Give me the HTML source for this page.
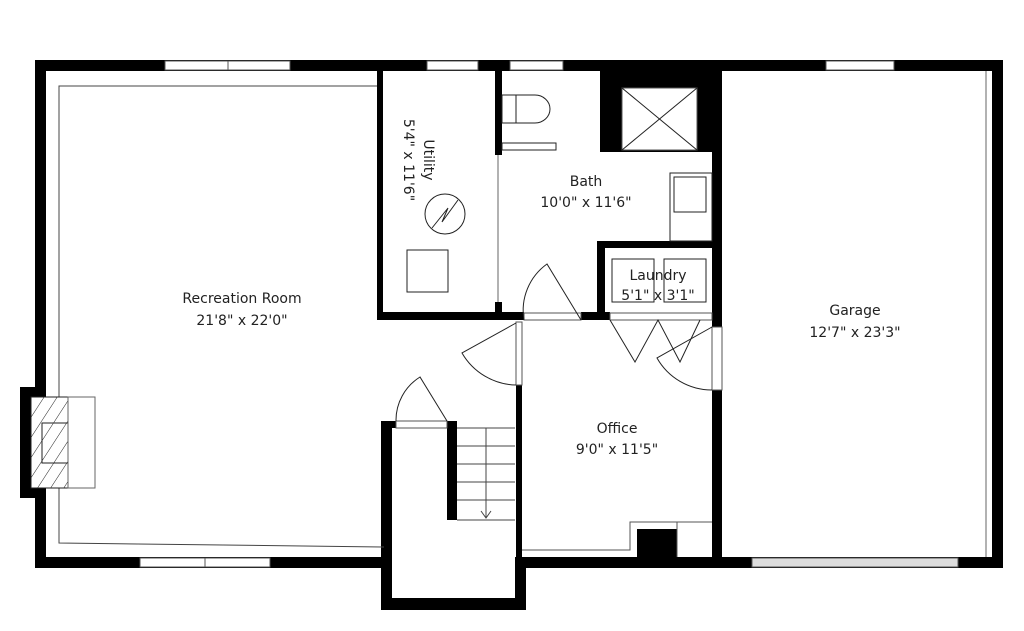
<!DOCTYPE html>
<html><head><style>body{margin:0;background:#fff}svg{display:block}text{font-family:"DejaVu Sans","Liberation Sans",sans-serif;font-size:14px;fill:#222;text-anchor:middle}</style></head><body>
<svg width="1024" height="631" viewBox="0 0 1024 631">
<defs>
<pattern id="h" width="11" height="11" patternUnits="userSpaceOnUse" patternTransform="rotate(33)">
<line x1="0" y1="0" x2="0" y2="11" stroke="#222" stroke-width="1"/>
</pattern>
</defs>
<g fill="#000">
<rect x="35" y="60" width="968" height="11"/>
<rect x="35" y="60" width="11" height="508"/>
<rect x="20" y="387" width="15" height="111"/>
<rect x="35" y="557" width="350" height="11"/>
<rect x="519" y="557" width="484" height="11"/>
<rect x="992" y="60" width="11" height="508"/>
<rect x="381" y="421" width="11" height="189"/>
<rect x="381" y="598" width="145" height="12"/>
<rect x="515" y="557" width="11" height="53"/>
<rect x="381" y="421" width="15" height="7"/>
<rect x="447" y="421" width="10" height="99"/>
<rect x="516" y="385" width="6" height="172"/>
<rect x="377" y="71" width="6" height="249"/>
<rect x="377" y="312" width="147" height="8"/>
<rect x="495" y="71" width="7" height="84"/>
<rect x="495" y="302" width="7" height="10"/>
<rect x="581" y="312" width="29" height="8"/>
<rect x="600" y="71" width="122" height="81"/>
<rect x="712" y="71" width="10" height="256"/>
<rect x="712" y="390" width="10" height="167"/>
<rect x="597" y="241" width="125" height="7"/>
<rect x="597" y="241" width="8" height="79"/>
<rect x="637" y="529" width="40" height="28"/>
</g>
<g fill="#fff" stroke="#555" stroke-width="1">
<rect x="165" y="61" width="125" height="9"/><line x1="228" y1="61" x2="228" y2="70"/>
<rect x="427" y="61" width="51" height="9"/>
<rect x="510" y="61" width="53" height="9"/>
<rect x="826" y="61" width="68" height="9"/>
<rect x="140" y="558" width="130" height="9"/><line x1="205" y1="558" x2="205" y2="567"/>
<rect x="752" y="558" width="206" height="9" fill="#ddd"/>
<rect x="622" y="88" width="75" height="62"/>
<rect x="396" y="421" width="51" height="7"/>
<rect x="524" y="313" width="57" height="7"/>
<rect x="610" y="313" width="102" height="7"/>
<rect x="516" y="322" width="6" height="63"/>
<rect x="712" y="327" width="10" height="63"/>
</g>
<g fill="none" stroke="#222" stroke-width="1">
<path d="M622 88 L697 150 M697 88 L622 150"/>
<path d="M377 86 L59 86 L59 397 M59 488 L59 543 L384 547" stroke="#444"/>
<line x1="986" y1="71" x2="986" y2="557" stroke="#666"/>
<line x1="498" y1="155" x2="498" y2="302" stroke="#666"/>
<rect x="502" y="95" width="14" height="28"/>
<path d="M516 95 L535 95 A15 14 0 0 1 535 123 L516 123"/>
<rect x="502" y="143" width="54" height="7"/>
<circle cx="445" cy="214" r="20"/>
<path d="M432 228 L448 208 L442 222 L458 200"/>
<rect x="407" y="250" width="41" height="42"/>
<rect x="670" y="173" width="42" height="68"/>
<rect x="674" y="177" width="32" height="35"/>
<rect x="612" y="259" width="42" height="43"/><rect x="664" y="259" width="42" height="43"/>
<path d="M516 323 L462 353 A64 64 0 0 0 516 385"/>
<path d="M447 421 L420 377 A51 51 0 0 0 396 421"/>
<path d="M581 320 L547 264 A57 57 0 0 0 524 320"/>
<path d="M610 320 L635 362 L658 320 L680 362 L700 320"/>
<path d="M712 327 L657 358 A63 63 0 0 0 712 390"/>
<g stroke="#444">
<line x1="457" y1="428" x2="515" y2="428"/><line x1="457" y1="446" x2="515" y2="446"/><line x1="457" y1="464" x2="515" y2="464"/><line x1="457" y1="482" x2="515" y2="482"/><line x1="457" y1="500" x2="515" y2="500"/><line x1="457" y1="520" x2="515" y2="520"/>
<line x1="486" y1="428" x2="486" y2="518"/><path d="M481 511 L486 518 L491 511"/>
</g>
<path d="M522 550 L630 550 L630 522 L677 522 M677 522 L712 522 M677 522 L677 557" stroke="#555"/>
<rect x="31" y="397" width="37" height="91" fill="#fff"/>
<rect x="31" y="397" width="37" height="91" fill="url(#h)"/>
<rect x="42" y="423" width="26" height="40"/>
<rect x="68" y="397" width="27" height="91" stroke="#666"/>
</g>
<text x="242" y="303">Recreation Room</text><text x="242" y="325">21'8" x 22'0"</text>
<text x="586" y="186">Bath</text><text x="586" y="207">10'0" x 11'6"</text>
<text x="658" y="280">Laundry</text><text x="658" y="300">5'1" x 3'1"</text>
<text x="617" y="433">Office</text><text x="617" y="454">9'0" x 11'5"</text>
<text x="855" y="315">Garage</text><text x="855" y="337">12'7" x 23'3"</text>
<g transform="translate(420,160) rotate(90)"><text x="0" y="-4">Utility</text><text x="0" y="16">5'4" x 11'6"</text></g>
</svg>
</body></html>
